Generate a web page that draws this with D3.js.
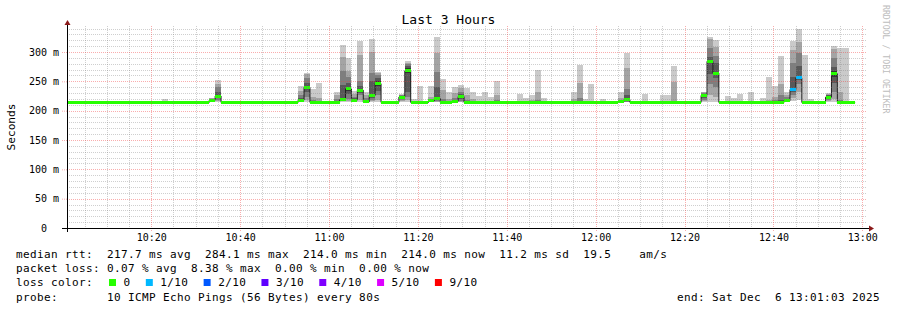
<!DOCTYPE html>
<html>
<head>
<meta charset="utf-8">
<script src="https://cdn.jsdelivr.net/npm/d3@7"></script>
<style>
html, body { margin: 0; padding: 0; background: #fff; }
svg { display: block; font-family: "DejaVu Sans Mono", monospace; }
svg text { white-space: pre; }
</style>
</head>
<body>
<svg width="897" height="310"></svg>
<script>
const DAY = "2025-12-06"
const TIME_START = "10:01:03"
const TIME_END = "13:01:03"
const STEP_SECONDS = 80

// median rtt (ms) of every 80s sample, first one starting at TIME_START
const medianRtt = [
    214, 214, 214, 214, 214, 214, 214, 214, 214, 214,
    214, 214, 214, 214, 214, 214, 214, 214, 214, 214,
    214, 214, 214, 214, 218, 225, 214, 214, 214, 214,
    214, 214, 214, 214, 214, 214, 214, 214, 214, 218,
    240, 214, 214, 214, 214, 214, 219, 237, 218, 235,
    215, 226, 246, 214, 214, 214, 223, 268, 214, 214,
    214, 217, 221, 214, 214, 216, 224, 214, 214, 214,
    214, 214, 214, 214, 214, 214, 214, 214, 214, 214,
    214, 214, 214, 214, 214, 214, 214, 214, 214, 214,
    214, 214, 214, 216, 219, 214, 214, 214, 214, 214,
    214, 214, 214, 214, 214, 214, 214, 226, 284.1, 264,
    214, 214, 214, 214, 214, 214, 214, 214, 214, 214,
    214, 217, 236, 256, 214, 214, 214, 214, 223, 263,
    214, 214, 214
]

// samples with scattered pings (smoke)
const smokeTimes = [
    "10:22:23", "10:33:03", "10:34:23", "10:51:43", "10:53:03", "10:54:23", "10:55:43", "10:57:03",
    "11:01:03", "11:02:23", "11:03:43", "11:05:03", "11:06:23", "11:07:43", "11:09:03", "11:10:23",
    "11:15:43", "11:17:03", "11:18:23", "11:19:43", "11:22:23", "11:23:43", "11:25:03", "11:26:23",
    "11:27:43", "11:29:03", "11:30:23", "11:31:43", "11:33:03", "11:34:23", "11:35:43", "11:37:03",
    "11:41:03", "11:42:23", "11:43:43", "11:45:03", "11:46:23", "11:47:43", "11:54:23", "11:55:43",
    "11:57:03", "11:58:23", "12:01:03", "12:05:03", "12:06:23", "12:09:03", "12:10:23", "12:13:03",
    "12:14:23", "12:15:43", "12:17:03", "12:23:43", "12:25:03", "12:26:23", "12:29:03", "12:30:23",
    "12:31:43", "12:34:23", "12:37:03", "12:38:23", "12:39:43", "12:41:03", "12:42:23", "12:43:43",
    "12:45:03", "12:46:23", "12:47:43", "12:51:43", "12:53:03", "12:54:23", "12:55:43"
]
const smokePings = [
    [214, 214, 214, 214, 214, 214, 214, 214, 215, 220],
    [214, 215, 216, 217, 217, 219, 219, 220, 221, 222],
    [214, 216, 219, 222, 224, 226, 232, 240, 246, 252],
    [214, 214, 214, 214, 214, 214, 214, 214, 214, 216],
    [214, 214, 215, 216, 217, 219, 221, 226, 233, 242],
    [215, 218, 224, 232, 238, 242, 248, 255, 262, 265],
    [214, 214, 214, 214, 214, 214, 215, 218, 224, 237],
    [214, 214, 214, 214, 214, 214, 215, 217, 222, 248],
    [214, 214, 214, 214, 214, 214, 216, 220, 226, 231],
    [214, 216, 218, 219, 219, 221, 244, 267, 292, 312],
    [214, 216, 220, 228, 234, 240, 248, 258, 267, 289],
    [214, 214, 215, 216, 217, 219, 221, 224, 228, 233],
    [214, 218, 226, 230, 233, 237, 242, 250, 295, 319],
    [214, 214, 214, 214, 214, 216, 218, 221, 226, 232],
    [214, 216, 219, 222, 224, 228, 250, 265, 300, 322],
    [214, 218, 226, 234, 242, 250, 256, 261, 264, 266],
    [214, 216, 218, 220, 222, 224, 225, 226, 227, 228],
    [214, 218, 224, 232, 264, 272, 276, 279, 282, 284],
    [214, 214, 214, 214, 214, 214, 214, 215, 217, 220],
    [214, 214, 214, 214, 214, 214, 214, 214, 215, 242],
    [214, 214, 215, 216, 217, 217, 218, 220, 224, 242],
    [214, 215, 217, 219, 220, 222, 240, 266, 298, 326],
    [214, 214, 214, 214, 214, 214, 216, 220, 236, 254],
    [214, 214, 214, 214, 214, 214, 214, 216, 220, 232],
    [214, 214, 214, 215, 216, 216, 218, 221, 230, 241],
    [214, 215, 217, 220, 223, 225, 228, 232, 238, 244],
    [214, 214, 214, 214, 214, 214, 215, 218, 226, 238],
    [214, 214, 214, 214, 214, 214, 214, 216, 220, 232],
    [214, 214, 214, 214, 214, 214, 214, 214, 216, 225],
    [214, 214, 214, 214, 214, 214, 214, 214, 216, 232],
    [214, 214, 214, 214, 214, 214, 214, 214, 215, 223],
    [214, 214, 214, 214, 214, 214, 215, 218, 226, 250],
    [214, 214, 214, 214, 214, 214, 214, 214, 214, 216],
    [214, 214, 214, 214, 214, 214, 214, 214, 216, 228],
    [214, 214, 214, 214, 214, 214, 214, 214, 214, 221],
    [214, 214, 214, 214, 214, 214, 214, 215, 219, 227],
    [214, 214, 214, 214, 214, 214, 215, 219, 231, 269],
    [214, 214, 214, 214, 214, 214, 214, 214, 214, 221],
    [214, 214, 214, 214, 214, 214, 214, 215, 220, 231],
    [214, 214, 214, 214, 214, 214, 216, 222, 248, 278],
    [214, 214, 214, 214, 214, 214, 214, 214, 214, 220],
    [214, 214, 214, 214, 214, 214, 214, 214, 214, 246],
    [214, 214, 214, 214, 214, 214, 214, 214, 214, 220],
    [214, 214, 214, 215, 216, 216, 217, 219, 222, 231],
    [214, 214, 215, 217, 218, 220, 226, 237, 273, 299],
    [214, 214, 214, 214, 214, 214, 214, 214, 214, 216],
    [214, 214, 214, 214, 214, 214, 214, 214, 214, 229],
    [214, 214, 214, 214, 214, 214, 214, 214, 214, 216],
    [214, 214, 214, 214, 214, 214, 214, 214, 214, 227],
    [214, 214, 214, 214, 214, 214, 214, 214, 216, 227],
    [214, 214, 214, 214, 214, 214, 214, 215, 249, 276],
    [214, 216, 219, 222, 225, 227, 229, 230, 231, 232],
    [214, 226, 246, 262, 282, 286, 292, 307, 322, 326],
    [214, 224, 240, 256, 262, 266, 282, 293, 309, 320],
    [214, 214, 214, 214, 214, 214, 214, 214, 216, 225],
    [214, 214, 214, 214, 214, 214, 214, 214, 214, 222],
    [214, 214, 214, 214, 214, 214, 214, 214, 214, 228],
    [214, 214, 214, 214, 214, 214, 214, 214, 214, 231],
    [214, 214, 214, 214, 214, 214, 214, 214, 214, 222],
    [214, 214, 214, 214, 214, 214, 214, 214, 218, 258],
    [214, 214, 214, 214, 214, 214, 216, 219, 224, 242],
    [214, 214, 214, 214, 214, 214, 218, 226, 246, 293],
    [214, 214, 215, 216, 216, 218, 220, 223, 227, 231],
    [216, 222, 226, 232, 236, 258, 282, 303, 319],
    [218, 232, 246, 252, 256, 276, 299, 317, 340],
    [214, 214, 214, 214, 214, 214, 214, 214, 215, 295],
    [214, 214, 214, 214, 214, 214, 214, 214, 214, 220],
    [214, 216, 219, 221, 222, 224, 226, 227, 229, 230],
    [214, 220, 232, 248, 258, 268, 275, 289, 305, 310],
    [214, 214, 214, 214, 214, 214, 214, 218, 232, 306],
    [214, 214, 214, 214, 214, 214, 214, 214, 215, 306]
]

// samples with lost pings (out of 10)
const lossTimes = ["12:43:43", "12:45:03"]
const lossCounts = [1, 1]

const yTicks = [0, 50, 100, 150, 200, 250, 300]
const xTicks = ["10:20", "10:40", "11:00", "11:20", "11:40", "12:00", "12:20", "12:40", "13:00"]

const lossLabels = ["0", "1/10", "2/10", "3/10", "4/10", "5/10", "9/10"]
const lossLevels = [0, 1, 2, 3, 4, 5, 9]
const lossColors = ["#26ff00", "#00b8ff", "#0059ff", "#5e00ff", "#7e00ff", "#dd00ff", "#ff0000"]

const statLines = [
    "median rtt:  217.7 ms avg  284.1 ms max  214.0 ms min  214.0 ms now  11.2 ms sd  19.5    am/s",
    "packet loss: 0.07 % avg  8.38 % max  0.00 % min  0.00 % now",
    "loss color:",
    "probe:       10 ICMP Echo Pings (56 Bytes) every 80s"
]
const END_LABEL = "end: Sat Dec  6 13:01:03 2025"
const TITLE = "Last 3 Hours"
const Y_TITLE = "Seconds"
const WATERMARK = "RRDTOOL / TOBI OETIKER"


const plot = { left: 67, right: 867, top: 26, bottom: 228 }
const MONO = "'DejaVu Sans Mono', monospace"
const MINOR_GRID = "rgba(130,130,130,0.38)"
const MAJOR_GRID = "rgba(240,60,60,0.42)"

const parseTime = d3.timeParse("%Y-%m-%d %H:%M:%S")
const at = s => parseTime(DAY + " " + (s.length === 5 ? s + ":00" : s))
const tStart = at(TIME_START)
const sampleStart = k => d3.timeSecond.offset(tStart, k * STEP_SECONDS)
// keep runs of spaces (monospace columns)
const keep = s => s.replace(/ /g, "\u00a0")

const x = d3.scaleTime().domain([tStart, at(TIME_END)]).range([plot.left, plot.right])
const y = d3.scaleLinear().domain([0, 300]).range([plot.bottom, 52])
const yTop = y.invert(plot.top)
const crisp = v => Math.round(v) + 0.5

const svg = d3.select("svg")

// smoke: pairs of sorted pings, outer pair lightest
const smoke = svg.append("g").attr("shape-rendering", "crispEdges")
smokeTimes.forEach((s, i) => {
    const p = smokePings[i].slice().sort((a, b) => a - b)
    const n = p.length
    const t0 = at(s), t1 = d3.timeSecond.offset(t0, STEP_SECONDS)
    for (let j = 0; j < Math.floor(n / 2); j++) {
        const g = Math.round(202 - j * 38)
        smoke.append("rect")
            .attr("x", x(t0))
            .attr("width", x(t1) - x(t0))
            .attr("y", y(p[n - 1 - j]))
            .attr("height", y(p[j]) - y(p[n - 1 - j]))
            .attr("fill", d3.rgb(g, g, g))
    }
})

const samples = medianRtt.map((m, k) => {
    const t0 = sampleStart(k)
    const li = lossTimes.indexOf(d3.timeFormat("%H:%M:%S")(t0))
    return { t0, t1: sampleStart(k + 1), m, loss: li < 0 ? 0 : lossCounts[li] }
})

// dark median step line
const pts = samples.map(d => [x(d.t0), y(d.m)])
pts.push([x(samples[samples.length - 1].t1), y(samples[samples.length - 1].m)])
svg.append("path")
    .attr("d", d3.line().curve(d3.curveStepAfter)(pts))
    .attr("fill", "none")
    .attr("stroke", "#202020")
    .attr("stroke-width", 1)

// median coloured by loss
svg.append("g").attr("shape-rendering", "crispEdges")
    .selectAll("rect").data(samples).join("rect")
    .attr("x", d => x(d.t0))
    .attr("width", d => x(d.t1) - x(d.t0))
    .attr("y", d => y(d.m) - 1.5)
    .attr("height", 3)
    .attr("fill", d => lossColors[d3.bisectLeft(lossLevels, d.loss)])

// grid on top, rrdtool style
const grid = svg.append("g").attr("stroke-dasharray", "1,1").attr("stroke-width", 1)
d3.range(10, yTop, 10).filter(v => v % 50 !== 0).forEach(v => {
    grid.append("line").attr("x1", plot.left).attr("x2", plot.right)
        .attr("y1", crisp(y(v))).attr("y2", crisp(y(v))).attr("stroke", MINOR_GRID)
})
d3.timeMinute.every(5).range(tStart, at(TIME_END))
    .filter(d => d.getMinutes() % 20 !== 0)
    .forEach(d => {
        grid.append("line").attr("y1", plot.top).attr("y2", plot.bottom)
            .attr("x1", crisp(x(d))).attr("x2", crisp(x(d))).attr("stroke", MINOR_GRID)
    })
yTicks.filter(v => v > 0).forEach(v => {
    grid.append("line").attr("x1", plot.left).attr("x2", plot.right)
        .attr("y1", crisp(y(v))).attr("y2", crisp(y(v))).attr("stroke", MAJOR_GRID)
})
xTicks.forEach(s => {
    grid.append("line").attr("y1", plot.top).attr("y2", plot.bottom + 3)
        .attr("x1", crisp(x(at(s)))).attr("x2", crisp(x(at(s)))).attr("stroke", MAJOR_GRID)
})

// axes
svg.append("g")
    .attr("transform", "translate(" + plot.left + ",0)")
    .call(d3.axisLeft(y).tickValues(yTicks).tickSize(5).tickPadding(3)
        .tickFormat(d => keep(d === 0 ? "0  " : d + " m")))
    .call(g => {
        g.select(".domain").remove()
        g.attr("font-family", MONO).attr("font-size", 10)
        g.selectAll("line").attr("stroke", MAJOR_GRID).attr("stroke-dasharray", "1,1")
        g.selectAll("text").attr("fill", "#000")
    })

svg.append("g")
    .attr("transform", "translate(0," + plot.bottom + ")")
    .call(d3.axisBottom(x).tickValues(xTicks.map(at)).tickSize(0).tickPadding(6)
        .tickFormat(d3.timeFormat("%H:%M")))
    .call(g => {
        g.select(".domain").remove()
        g.attr("font-family", MONO).attr("font-size", 10)
        g.selectAll("text").attr("fill", "#000")
    })

svg.append("line")
    .attr("x1", plot.left - 5).attr("x2", plot.right + 3)
    .attr("y1", plot.bottom + 0.5).attr("y2", plot.bottom + 0.5)
    .attr("stroke", "#000")
svg.append("line")
    .attr("x1", plot.left + 0.5).attr("x2", plot.left + 0.5)
    .attr("y1", plot.bottom + 4).attr("y2", plot.top - 3)
    .attr("stroke", "#000")
svg.append("path")
    .attr("d", `M${plot.left - 2.5},${plot.top - 1}L${plot.left + 0.5},${plot.top - 6}L${plot.left + 3.5},${plot.top - 1}Z`)
    .attr("fill", "#8b1a1a")
svg.append("path")
    .attr("d", `M${plot.right + 2},${plot.bottom - 2.5}L${plot.right + 7},${plot.bottom + 0.5}L${plot.right + 2},${plot.bottom + 3.5}Z`)
    .attr("fill", "#8b1a1a")

// titles
svg.append("text")
    .attr("x", 448.5).attr("y", 24)
    .attr("text-anchor", "middle")
    .attr("font-size", 13)
    .text(TITLE)

svg.append("text")
    .attr("transform", "translate(15,127) rotate(-90)")
    .attr("text-anchor", "middle")
    .attr("font-size", 11.2)
    .text(Y_TITLE)

svg.append("text")
    .attr("transform", "translate(883,5) rotate(90)")
    .attr("font-size", 8.2)
    .attr("fill", "#bdbdbd")
    .text(WATERMARK)

// legend
const legend = svg.append("g").attr("font-size", 11).attr("letter-spacing", 0.38)
const lineY = [258, 272, 286, 300.5]
statLines.forEach((s, i) => {
    legend.append("text").attr("x", 16).attr("y", lineY[i]).text(keep(s))
})
legend.append("text")
    .attr("x", 880).attr("y", lineY[3])
    .attr("text-anchor", "end")
    .text(keep(END_LABEL))

let lx = 109
lossLabels.forEach((lab, i) => {
    legend.append("rect")
        .attr("x", lx).attr("y", 279).attr("width", 7).attr("height", 7)
        .attr("fill", lossColors[i])
    const t = legend.append("text").attr("x", lx + 14.5).attr("y", lineY[2]).text(lab)
    lx += 14.5 + t.node().getComputedTextLength() + 15.3
})
</script>
</body>
</html>
